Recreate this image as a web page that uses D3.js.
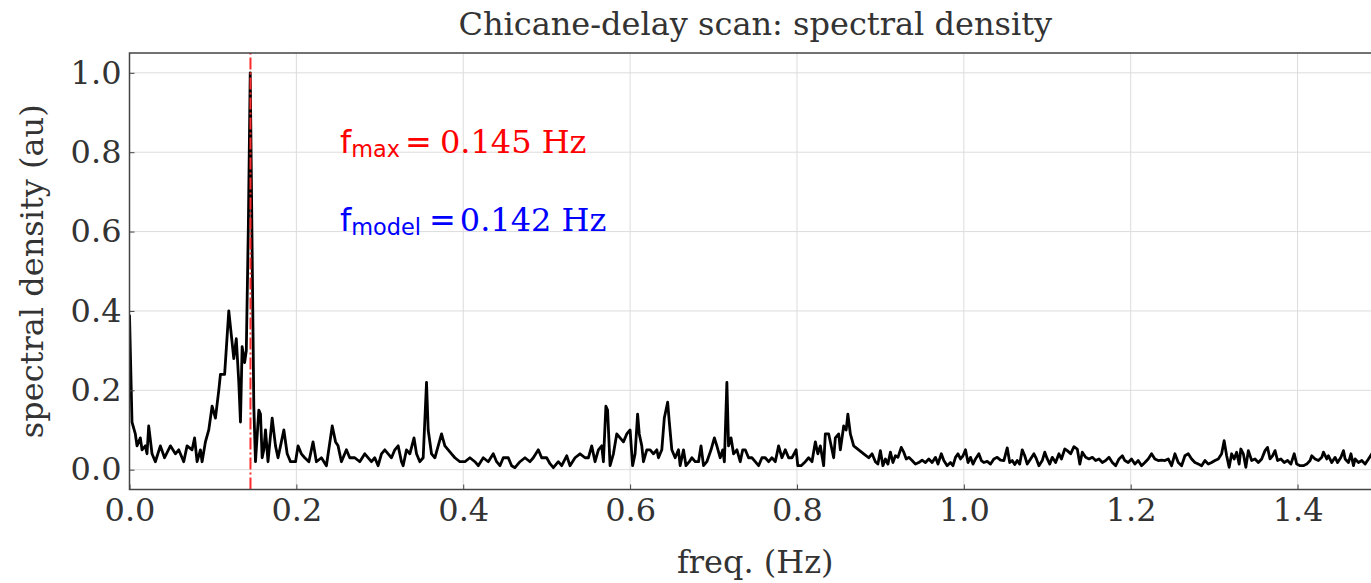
<!DOCTYPE html>
<html>
<head>
<meta charset="utf-8">
<script src="https://cdn.jsdelivr.net/npm/d3@7"></script>
<style>
  body { margin: 0; background: #fff; }
  svg { display: block; }
</style>
</head>
<body>
<svg></svg>
<script>
// spectrum
var freq = [
  0.000, 0.003, 0.007, 0.009, 0.013, 0.015, 0.019, 0.021, 0.023, 0.027, 0.031, 0.037, 0.042, 0.049, 0.055, 0.059,
  0.065, 0.069, 0.075, 0.078, 0.081, 0.085, 0.087, 0.091, 0.095, 0.099, 0.103, 0.107, 0.109, 0.114, 0.119, 0.123,
  0.125, 0.128, 0.131, 0.133, 0.135, 0.138, 0.140, 0.1425, 0.1447, 0.149, 0.151, 0.155, 0.157, 0.159, 0.161, 0.163,
  0.166, 0.171, 0.175, 0.178, 0.181, 0.185, 0.189, 0.193, 0.199, 0.202, 0.206, 0.210, 0.215, 0.220, 0.224, 0.230,
  0.236, 0.243, 0.247, 0.250, 0.254, 0.260, 0.264, 0.270, 0.276, 0.282, 0.290, 0.294, 0.298, 0.302, 0.306, 0.310,
  0.314, 0.318, 0.322, 0.326, 0.328, 0.332, 0.336, 0.341, 0.344, 0.348, 0.352, 0.356, 0.358, 0.362, 0.366, 0.370,
  0.374, 0.378, 0.382, 0.386, 0.390, 0.396, 0.402, 0.408, 0.414, 0.418, 0.424, 0.430, 0.436, 0.440, 0.444, 0.448,
  0.454, 0.458, 0.462, 0.468, 0.474, 0.480, 0.484, 0.490, 0.494, 0.500, 0.504, 0.508, 0.514, 0.518, 0.524, 0.528,
  0.534, 0.540, 0.546, 0.550, 0.554, 0.558, 0.562, 0.566, 0.568, 0.571, 0.573, 0.576, 0.580, 0.584, 0.588, 0.592,
  0.596, 0.600, 0.603, 0.606, 0.609, 0.611, 0.614, 0.616, 0.620, 0.624, 0.628, 0.632, 0.634, 0.638, 0.641, 0.645,
  0.647, 0.650, 0.654, 0.658, 0.660, 0.664, 0.667, 0.671, 0.674, 0.678, 0.682, 0.685, 0.688, 0.692, 0.697, 0.701,
  0.704, 0.708, 0.711, 0.713, 0.716, 0.718, 0.721, 0.724, 0.728, 0.732, 0.735, 0.738, 0.742, 0.746, 0.750, 0.754,
  0.758, 0.762, 0.766, 0.770, 0.774, 0.778, 0.782, 0.786, 0.790, 0.794, 0.799, 0.801, 0.805, 0.810, 0.814, 0.818,
  0.822, 0.825, 0.828, 0.832, 0.834, 0.838, 0.842, 0.844, 0.846, 0.850, 0.852, 0.856, 0.859, 0.861, 0.864, 0.868,
  0.874, 0.880, 0.886, 0.890, 0.894, 0.897, 0.900, 0.903, 0.906, 0.909, 0.912, 0.915, 0.918, 0.921, 0.925, 0.928,
  0.931, 0.934, 0.938, 0.942, 0.946, 0.950, 0.954, 0.958, 0.962, 0.966, 0.969, 0.973, 0.976, 0.980, 0.984, 0.987,
  0.990, 0.993, 0.996, 0.999, 1.002, 1.005, 1.008, 1.011, 1.014, 1.018, 1.021, 1.024, 1.028, 1.032, 1.036, 1.040,
  1.044, 1.048, 1.052, 1.055, 1.058, 1.061, 1.064, 1.067, 1.070, 1.073, 1.076, 1.080, 1.084, 1.087, 1.090, 1.094,
  1.097, 1.100, 1.103, 1.106, 1.110, 1.114, 1.117, 1.121, 1.124, 1.128, 1.132, 1.136, 1.139, 1.142, 1.146, 1.150,
  1.154, 1.158, 1.162, 1.166, 1.170, 1.174, 1.178, 1.182, 1.186, 1.190, 1.193, 1.197, 1.201, 1.205, 1.209, 1.213,
  1.217, 1.221, 1.225, 1.229, 1.233, 1.237, 1.241, 1.245, 1.249, 1.253, 1.257, 1.261, 1.265, 1.269, 1.273, 1.277,
  1.281, 1.285, 1.289, 1.293, 1.297, 1.301, 1.305, 1.309, 1.312, 1.315, 1.318, 1.321, 1.324, 1.327, 1.330, 1.332,
  1.335, 1.338, 1.341, 1.345, 1.349, 1.353, 1.357, 1.361, 1.364, 1.367, 1.370, 1.373, 1.376, 1.380, 1.384, 1.388,
  1.392, 1.396, 1.399, 1.403, 1.407, 1.411, 1.415, 1.417, 1.421, 1.425, 1.429, 1.431, 1.435, 1.437, 1.441, 1.445,
  1.448, 1.452, 1.455, 1.457, 1.461, 1.464, 1.467, 1.469, 1.473, 1.477, 1.481, 1.485, 1.489, 1.495
]
var density = [
  0.39, 0.12, 0.09, 0.06, 0.08, 0.05, 0.06, 0.04, 0.11, 0.04, 0.02, 0.06, 0.03, 0.06, 0.04, 0.05,
  0.02, 0.06, 0.05, 0.08, 0.02, 0.05, 0.02, 0.07, 0.10, 0.16, 0.13, 0.20, 0.24, 0.24, 0.40, 0.32,
  0.28, 0.33, 0.22, 0.12, 0.31, 0.27, 0.30, 0.62, 1.00, 0.16, 0.02, 0.15, 0.14, 0.03, 0.05, 0.10,
  0.02, 0.13, 0.06, 0.03, 0.06, 0.10, 0.04, 0.02, 0.02, 0.06, 0.04, 0.03, 0.02, 0.07, 0.02, 0.03,
  0.01, 0.11, 0.07, 0.06, 0.02, 0.05, 0.03, 0.03, 0.02, 0.04, 0.02, 0.03, 0.01, 0.04, 0.05, 0.04,
  0.03, 0.05, 0.06, 0.02, 0.01, 0.05, 0.04, 0.08, 0.04, 0.02, 0.03, 0.22, 0.10, 0.04, 0.03, 0.06,
  0.09, 0.06, 0.05, 0.04, 0.03, 0.02, 0.02, 0.03, 0.02, 0.01, 0.03, 0.02, 0.04, 0.02, 0.01, 0.03,
  0.03, 0.01, 0.005, 0.02, 0.03, 0.02, 0.03, 0.05, 0.03, 0.03, 0.015, 0.005, 0.02, 0.01, 0.035, 0.01,
  0.03, 0.04, 0.03, 0.03, 0.06, 0.02, 0.05, 0.06, 0.02, 0.16, 0.15, 0.01, 0.04, 0.09, 0.08, 0.07,
  0.09, 0.10, 0.01, 0.04, 0.14, 0.09, 0.06, 0.02, 0.05, 0.05, 0.04, 0.05, 0.03, 0.05, 0.13, 0.17,
  0.12, 0.05, 0.03, 0.05, 0.01, 0.05, 0.01, 0.02, 0.03, 0.02, 0.02, 0.06, 0.01, 0.02, 0.05, 0.08,
  0.06, 0.03, 0.05, 0.02, 0.22, 0.06, 0.08, 0.04, 0.05, 0.02, 0.05, 0.05, 0.03, 0.03, 0.02, 0.01,
  0.03, 0.03, 0.02, 0.03, 0.02, 0.06, 0.03, 0.05, 0.03, 0.03, 0.05, 0.01, 0.01, 0.02, 0.03, 0.02,
  0.07, 0.04, 0.06, 0.01, 0.09, 0.09, 0.05, 0.03, 0.08, 0.09, 0.05, 0.11, 0.10, 0.14, 0.09, 0.06,
  0.05, 0.04, 0.03, 0.04, 0.02, 0.014, 0.048, 0.010, 0.027, 0.014, 0.044, 0.018, 0.035, 0.031, 0.056, 0.044,
  0.027, 0.031, 0.023, 0.014, 0.018, 0.024, 0.018, 0.027, 0.018, 0.031, 0.014, 0.040, 0.023, 0.010, 0.018, 0.010,
  0.031, 0.040, 0.027, 0.035, 0.050, 0.018, 0.031, 0.014, 0.027, 0.040, 0.023, 0.018, 0.021, 0.014, 0.027, 0.031,
  0.024, 0.023, 0.055, 0.018, 0.023, 0.013, 0.023, 0.014, 0.050, 0.035, 0.014, 0.027, 0.040, 0.027, 0.010, 0.023,
  0.044, 0.027, 0.014, 0.031, 0.018, 0.040, 0.027, 0.052, 0.048, 0.040, 0.058, 0.052, 0.014, 0.044, 0.031, 0.027,
  0.031, 0.023, 0.027, 0.018, 0.023, 0.031, 0.018, 0.010, 0.027, 0.035, 0.023, 0.018, 0.027, 0.014, 0.023, 0.010,
  0.018, 0.027, 0.040, 0.027, 0.023, 0.024, 0.023, 0.027, 0.010, 0.040, 0.018, 0.010, 0.035, 0.040, 0.027, 0.018,
  0.014, 0.010, 0.023, 0.014, 0.018, 0.023, 0.027, 0.040, 0.073, 0.035, 0.006, 0.040, 0.027, 0.044, 0.014, 0.052,
  0.040, 0.006, 0.048, 0.023, 0.027, 0.018, 0.027, 0.048, 0.056, 0.027, 0.035, 0.048, 0.023, 0.027, 0.018, 0.023,
  0.014, 0.040, 0.014, 0.010, 0.010, 0.014, 0.023, 0.035, 0.027, 0.023, 0.031, 0.044, 0.027, 0.035, 0.018, 0.031,
  0.018, 0.031, 0.048, 0.027, 0.018, 0.040, 0.010, 0.027, 0.018, 0.023, 0.014, 0.027, 0.040, 0.030
]
var xTicks = [0.0, 0.2, 0.4, 0.6, 0.8, 1.0, 1.2, 1.4]
var yTicks = [0.0, 0.2, 0.4, 0.6, 0.8, 1.0]
var fMax = 0.145
var fModel = 0.142

var width = 1371
var height = 583
var margin = {top: 53, right: -10, bottom: 93.5, left: 129.5}

var svg = d3.select("svg")
    .attr("width", width)
    .attr("height", height)

var x = d3.scaleLinear()
    .domain([0, 1.5])
    .range([margin.left, width - margin.right])

var y = d3.scaleLinear()
    .domain([-0.05, 1.05])
    .range([height - margin.bottom, margin.top])

var serif = "'DejaVu Serif', serif"
var sans = "'DejaVu Sans', sans-serif"
var textColor = "#333"
var fontSize = "32px"

svg.append("clipPath").attr("id", "plotArea")
    .append("rect")
    .attr("x", x(0)).attr("y", y(1.05))
    .attr("width", x(1.5) - x(0)).attr("height", y(-0.05) - y(1.05))

// grid
svg.append("g")
    .selectAll("line")
    .data(xTicks)
    .enter().append("line")
    .attr("x1", d => x(d)).attr("x2", d => x(d))
    .attr("y1", y(-0.05)).attr("y2", y(1.05))
    .attr("stroke", "#dcdcdc").attr("stroke-width", 1)

svg.append("g")
    .selectAll("line")
    .data(yTicks)
    .enter().append("line")
    .attr("x1", x(0)).attr("x2", x(1.5))
    .attr("y1", d => y(d)).attr("y2", d => y(d))
    .attr("stroke", "#dcdcdc").attr("stroke-width", 1)

// spectrum line
var points = freq.map((f, i) => [f, density[i]])
var line = d3.line()
    .x(d => x(d[0]))
    .y(d => y(d[1]))

svg.append("path")
    .datum(points)
    .attr("clip-path", "url(#plotArea)")
    .attr("fill", "none")
    .attr("stroke", "#000")
    .attr("stroke-width", 2.8)
    .attr("stroke-linejoin", "round")
    .attr("d", line)

// f_max marker
svg.append("line")
    .attr("x1", x(fMax)).attr("x2", x(fMax))
    .attr("y1", y(-0.05)).attr("y2", y(1.05))
    .attr("stroke", "#ff2a2a")
    .attr("stroke-width", 2)
    .attr("stroke-dasharray", "12,3,2,3")

// axes
var xAxis = d3.axisBottom(x)
    .tickValues(xTicks)
    .tickFormat(d3.format(".1f"))
    .tickSizeInner(-5)
    .tickSizeOuter(0)
    .tickPadding(9)

var yAxis = d3.axisLeft(y)
    .tickValues(yTicks)
    .tickFormat(d3.format(".1f"))
    .tickSizeInner(-5)
    .tickSizeOuter(0)
    .tickPadding(8)

var gx = svg.append("g")
    .attr("transform", `translate(0, ${y(-0.05)})`)
    .call(xAxis)
var gy = svg.append("g")
    .attr("transform", `translate(${x(0)}, 0)`)
    .call(yAxis)

;[gx, gy].forEach(g => {
    g.select(".domain").remove()
    g.selectAll(".tick line").attr("stroke", "#444").attr("stroke-width", 1)
    g.selectAll(".tick text")
        .attr("fill", textColor)
        .style("font-family", serif)
        .style("font-size", fontSize)
})

// frame; the right edge falls outside the picture
svg.append("rect")
    .attr("x", x(0)).attr("y", y(1.05))
    .attr("width", x(1.5) - x(0)).attr("height", y(-0.05) - y(1.05))
    .attr("fill", "none")
    .attr("stroke", "#444")
    .attr("stroke-width", 1.5)

// titles
svg.append("text")
    .attr("x", (x(0) + x(1.5)) / 2).attr("y", 35)
    .attr("text-anchor", "middle")
    .attr("fill", textColor)
    .style("font-family", serif).style("font-size", fontSize)
    .text("Chicane-delay scan: spectral density")

svg.append("text")
    .attr("x", (x(0) + x(1.5)) / 2).attr("y", 573)
    .attr("text-anchor", "middle")
    .attr("fill", textColor)
    .style("font-family", serif).style("font-size", fontSize)
    .text("freq. (Hz)")

svg.append("text")
    .attr("transform", `translate(43, ${(y(-0.05) + y(1.05)) / 2}) rotate(-90)`)
    .attr("text-anchor", "middle")
    .attr("fill", textColor)
    .style("font-family", serif).style("font-size", fontSize)
    .text("spectral density (au)")

// annotations
function annotate(yPos, sub, value, color, gap) {
    var t = svg.append("text")
        .attr("x", 340).attr("y", yPos)
        .attr("fill", color)
        .style("font-size", fontSize)
    t.append("tspan").style("font-family", sans).text("f")
    t.append("tspan").style("font-family", sans)
        .style("font-size", "22.4px").attr("dy", 4).text(sub)
    t.append("tspan").style("font-family", sans)
        .attr("dy", -4).attr("dx", gap[0]).text("=")
    t.append("tspan").style("font-family", serif)
        .attr("dx", gap[1]).text(value + " Hz")
}
annotate(152.5, "max", fMax.toFixed(3), "#ff0000", [5, 8])
annotate(230.5, "model", fModel.toFixed(3), "#0000ff", [8, 4])
</script>
</body>
</html>
